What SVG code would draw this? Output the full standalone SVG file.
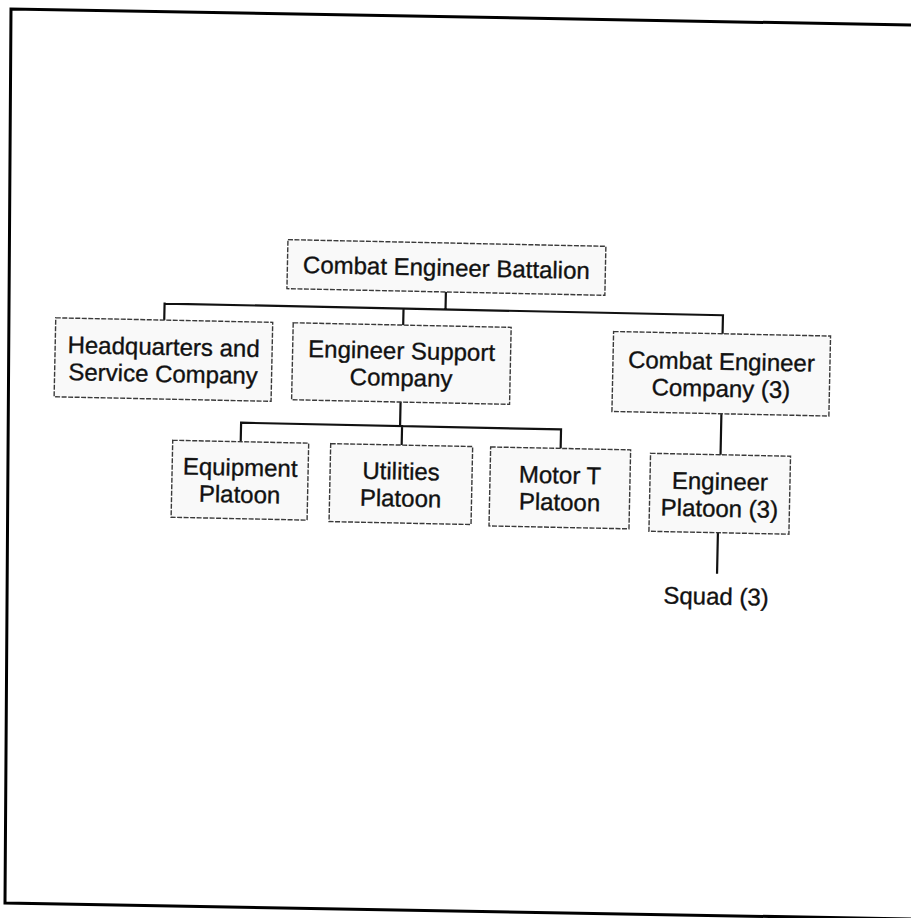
<svg xmlns="http://www.w3.org/2000/svg" width="911" height="918" viewBox="0 0 911 918">
<defs>
<style>
.box{fill:#f9f9f9;stroke:#3a3a3a;stroke-width:1.4;stroke-dasharray:5 1.5}
.t{font-family:"Liberation Sans",Arial,sans-serif;font-size:24px;fill:#111;stroke:#111;stroke-width:0.35;text-anchor:middle}
.c{stroke:#111;stroke-width:2.2;fill:none;stroke-linecap:square}
.frame{stroke:#000;stroke-width:3;fill:none}
</style>
</defs>
<rect width="911" height="918" fill="#fff"/>
<path class="frame" d="M911,25 L11,9 L5,903 L911,919"/>
<g transform="rotate(1.2 446 430)">
<g id="connectors">
<path class="c" d="M443,292 V309.5 M162,309.5 H720.5 M162,309.5 V327 M401,309.5 V327 M720.5,309.5 V328"/>
<path class="c" d="M400,403 V427 M241,427 H561 M241,427 V446 M402,427 V446 M561,427 V446"/>
<path class="c" d="M721,408 V449 M720,527 V567"/>
</g>
<g id="battalion">
<rect class="box" x="284" y="243" width="318" height="49"/>
<text class="t" x="443" y="276">Combat Engineer Battalion</text>
</g>
<g id="hq">
<rect class="box" x="53.5" y="326" width="217" height="79"/>
<text class="t" x="162" y="361">Headquarters and</text>
<text class="t" x="162" y="388">Service Company</text>
</g>
<g id="esc">
<rect class="box" x="291" y="326" width="218" height="77"/>
<text class="t" x="400" y="360">Engineer Support</text>
<text class="t" x="400" y="387">Company</text>
</g>
<g id="cec">
<rect class="box" x="611.5" y="328" width="217" height="80"/>
<text class="t" x="720" y="364">Combat Engineer</text>
<text class="t" x="720" y="391">Company (3)</text>
</g>
<g id="equipment">
<rect class="box" x="173" y="446" width="136" height="77"/>
<text class="t" x="241" y="480">Equipment</text>
<text class="t" x="241" y="507">Platoon</text>
</g>
<g id="utilities">
<rect class="box" x="331" y="446" width="142" height="78"/>
<text class="t" x="402" y="480.5">Utilities</text>
<text class="t" x="402" y="507.5">Platoon</text>
</g>
<g id="motort">
<rect class="box" x="491" y="446" width="140" height="79"/>
<text class="t" x="561" y="481">Motor T</text>
<text class="t" x="561" y="508">Platoon</text>
</g>
<g id="engplatoon">
<rect class="box" x="651" y="449" width="140" height="78"/>
<text class="t" x="721" y="484">Engineer</text>
<text class="t" x="721" y="511">Platoon (3)</text>
</g>
<g id="squad">
<text class="t" x="719.5" y="599">Squad (3)</text>
</g>
</g>
</svg>
